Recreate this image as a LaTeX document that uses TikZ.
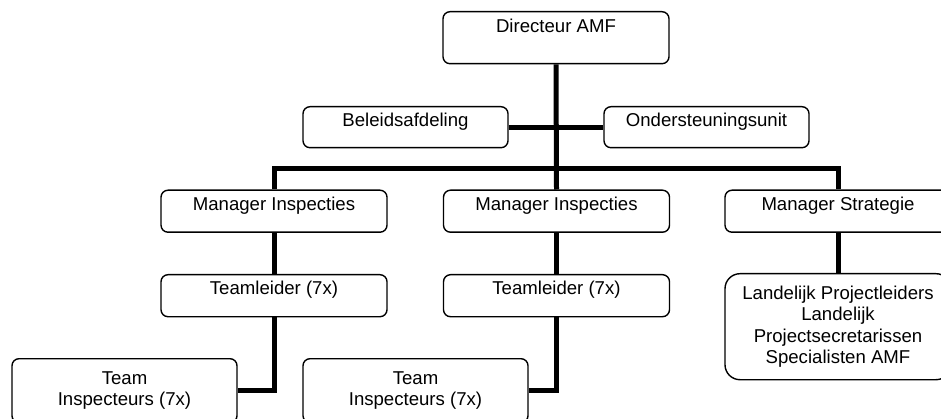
\documentclass[tikz,border=0pt]{standalone}
\usepackage{fontspec}
\setmainfont{Liberation Sans}
\begin{document}
\begin{tikzpicture}[x=1pt,y=-1pt,
  orgbox/.style={draw=black, line width=1.4pt, rounded corners=7pt, inner sep=0pt,
    align=center, anchor=north, font=\fontsize{18.6pt}{21.6pt}\selectfont},
  onel/.style={orgbox, minimum width=226pt, text height=20.5pt, text depth=21.5pt},
  conn/.style={line width=5pt, line join=miter, line cap=rect}
]
\useasboundingbox (0,0) rectangle (941,419);

% boxes
\node[onel, text height=21pt, text depth=31pt] (dir) at (556,11) {Directeur AMF};
\node[onel, minimum width=205pt, text height=20pt, text depth=21pt] (bel) at (405.5,106) {Beleidsafdeling};
\node[onel, minimum width=205pt, text height=20pt, text depth=21pt] (ond) at (706.5,106) {Ondersteuningsunit};

\node[onel] (mgr1) at (274,189.5) {Manager Inspecties};
\node[onel] (mgr2) at (556.5,189.5) {Manager Inspecties};
\node[onel] (ms) at (838,189.5) {Manager Strategie};

\node[onel, text height=20pt, text depth=22pt] (tl1) at (274,274) {Teamleider (7x)};
\node[onel, text height=20pt, text depth=22pt] (tl2) at (556.5,274) {Teamleider (7x)};

\node[orgbox, minimum width=225pt, minimum height=64pt] (team1) at (124.5,358) {Team\\Inspecteurs (7x)};
\node[orgbox, minimum width=225pt, minimum height=64pt] (team2) at (415.5,358) {Team\\Inspecteurs (7x)};

\node[orgbox, rounded corners=15pt, minimum width=226pt, minimum height=106pt] (lan) at (838,273)
  {Landelijk Projectleiders\\Landelijk\\Projectsecretarissen\\Specialisten AMF};

% connectors
\coordinate (bus) at (556.5,168.5);
\draw[conn, line cap=butt] (dir.south) -- (mgr2.north);
\draw[conn, line cap=butt] (bel.east) -- (ond.west);
\draw[conn, line cap=butt] (mgr1.north) |- (bus) -| (ms.north);
\draw[conn, line cap=butt] (mgr1.south) -- (tl1.north);
\draw[conn, line cap=butt] (mgr2.south) -- (tl2.north);
\draw[conn, line cap=butt] (ms.south) -- (lan.north);
\draw[conn, line cap=butt] (tl1.south) |- (team1.east);
\draw[conn, line cap=butt] (tl2.south) |- (team2.east);
\end{tikzpicture}
\end{document}
